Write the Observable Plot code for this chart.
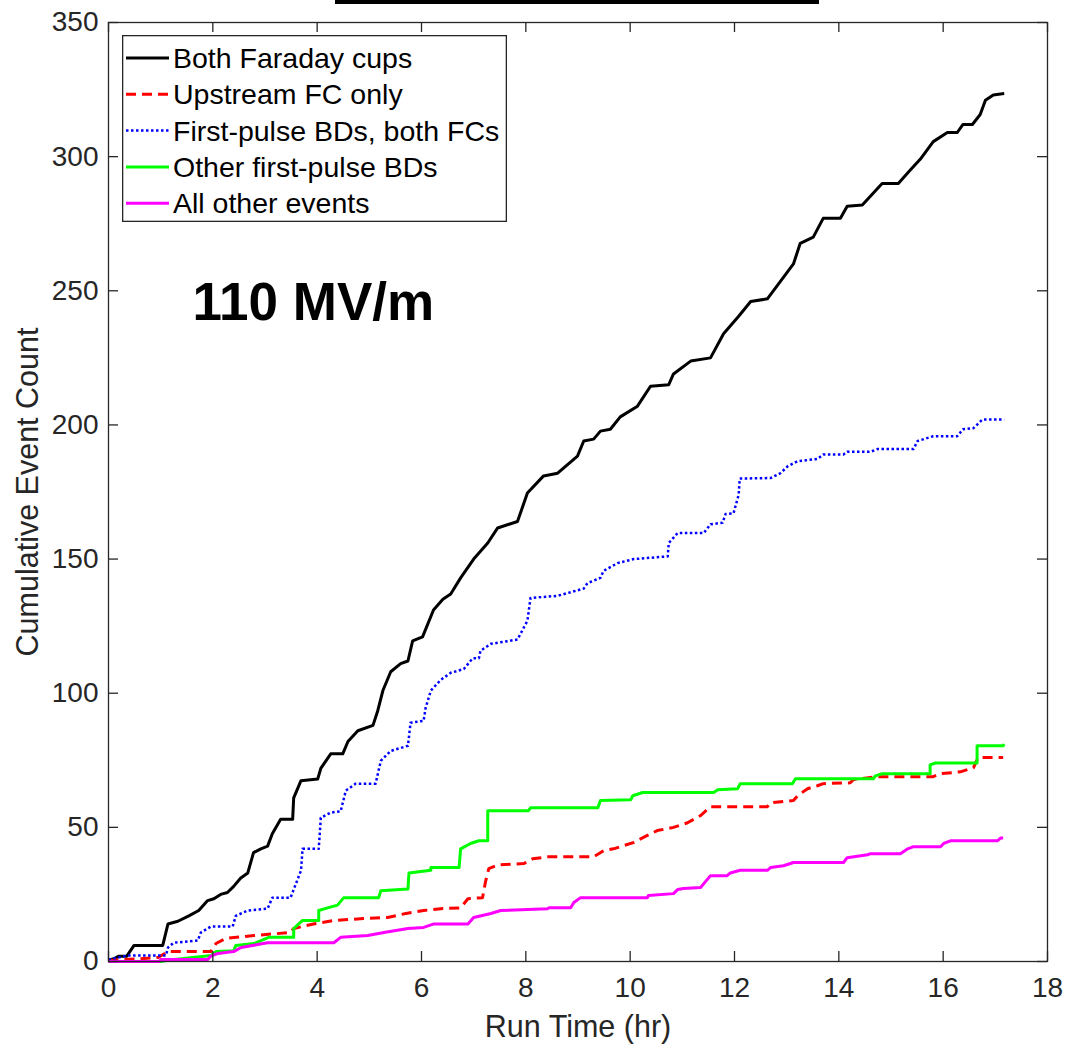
<!DOCTYPE html>
<html>
<head>
<meta charset="utf-8">
<script src="https://cdn.jsdelivr.net/npm/d3@7"></script>
<script src="https://cdn.jsdelivr.net/npm/@observablehq/plot@0.6"></script>
<style>
  body { margin: 0; background: #fff; }
  #wrap { position: relative; width: 1069px; height: 1045px; font-family: "Liberation Sans", Arial, sans-serif; }
  #topbar { position: absolute; left: 335px; top: 0; width: 484px; height: 4px; background: #000; }
  #legend { position: absolute; left: 122px; top: 35px; }
</style>
</head>
<body>
<div id="wrap"><div id="chart"></div><div id="topbar"></div><div id="legend"></div></div>
<script>
// ---- data ----
const xTicks = [0, 2, 4, 6, 8, 10, 12, 14, 16, 18];
const yTicks = [0, 50, 100, 150, 200, 250, 300, 350];

const bothX = [0,0.1,0.2,0.35,0.49,1.04,1.14,1.33,1.54,1.73,1.90,2.02,2.15,2.28,2.40,2.53,2.67,2.78,2.92,3.05,3.14,3.30,3.53,3.55,3.69,4.01,4.07,4.26,4.49,4.59,4.78,5.07,5.16,5.26,5.41,5.60,5.74,5.83,6.02,6.23,6.41,6.56,6.75,7.00,7.27,7.46,7.84,8.03,8.34,8.61,8.99,9.11,9.30,9.43,9.62,9.81,10.14,10.39,10.74,10.83,11.16,11.54,11.79,12.08,12.31,12.63,12.88,13.13,13.26,13.51,13.70,14.03,14.16,14.45,14.64,14.83,15.14,15.37,15.56,15.81,16.08,16.27,16.38,16.56,16.71,16.81,16.96,17.17];
const bothY = [0.5,1,2,2,6,6,14,15,17,19,22.7,23.4,25,25.7,28,31,33,40.6,42,43,47.6,53,53,61,67.4,68,72,77.4,77.4,82,86,88,93.4,101,108,111,112,119.5,121,131,135,137,143,150,156,161.6,164,174.6,181,182,188.4,194,194.7,197.7,198.4,203,207,214.4,215,219,223.8,225,234,240.5,246,247,253.5,260,267.7,270,277,277,281.5,282,286,290,290,295,299,305.6,309,309,312,312,315.7,321,323,323.5];

const upX = [0,0.24,0.62,0.95,1.14,1.96,2.06,2.25,2.79,3.49,3.55,3.93,4.32,4.89,5.35,5.70,6.04,6.37,6.75,6.89,7.17,7.23,7.29,7.46,7.96,8.13,8.42,9.30,9.49,9.68,10.06,10.33,10.52,10.83,11.10,11.35,11.54,12.63,12.69,13.13,13.21,13.40,13.59,13.70,14.22,14.28,14.74,15.81,15.95,16.33,16.58,16.67,17.15];
const upY = [0.4,0.7,1,1.5,3.7,3.7,6.7,8.6,9.7,10.8,12.3,14,15.3,16,16.4,17.9,19,19.7,20,23.4,23.8,30,34.6,36,36.5,38.3,39,39,41.3,42,44.3,47,48.8,50,51.7,54.4,57.7,57.7,59.2,60,61.8,64.4,65.5,66.3,66.6,67.8,68.9,68.9,70,70.7,72.2,76,76];

const firstX = [0,0.37,1.10,1.14,1.25,1.71,1.77,1.96,2.38,2.44,2.67,3.05,3.14,3.49,3.69,3.72,4.03,4.07,4.26,4.45,4.55,4.74,5.12,5.22,5.41,5.74,5.79,6.04,6.08,6.18,6.37,6.56,6.81,6.98,7.10,7.13,7.33,7.84,8.03,8.09,8.61,9.11,9.18,9.43,9.49,9.76,10.07,10.72,10.74,10.91,11.41,11.54,11.77,11.83,11.98,12.08,12.10,12.69,12.88,13.02,13.21,13.59,13.70,14.09,14.16,14.61,14.74,15.43,15.51,15.81,16.27,16.38,16.58,16.75,17.17];
const firstY = [0.7,2.2,2.2,5.2,7,7.8,10.8,13,13,17,19,19.7,23.8,23.8,33.9,42,42,53.6,55.5,56,63.7,66.3,66.3,74.8,78.5,80.4,89,89.7,94.6,101,105,107.6,109,113,113,115.8,118.4,120,127,135.5,136.3,139,141,143,145.6,148.5,150,151,156,159.7,159.7,163,163.5,166.8,167,174,180,180.2,182,184.6,186.5,187.3,189,189,190,190,191,191,194,195.8,195.8,198.4,198.8,202,202];

const otherFirstX = [0,1.0,1.14,1.96,2.06,2.40,2.44,2.79,3.07,3.55,3.55,3.72,4.03,4.03,4.20,4.39,4.51,5.18,5.22,5.74,5.76,6.18,6.18,6.72,6.75,6.94,7.10,7.27,7.27,8.05,8.09,9.38,9.43,10.01,10.05,10.24,11.60,11.68,12.06,12.11,13.11,13.17,14.66,14.70,14.83,15.75,15.75,15.85,16.65,16.65,17.15,17.17];
const otherFirstY = [0,0,0.5,2.2,3.7,4,6,6.7,9,9,12.3,15.3,15.3,19,20,21,23.8,23.8,26.4,27,33,34,35,35,42,44,45,45,56.2,56.2,57.3,57.3,60,60.3,61.8,63,63,64,64.4,66.3,66.3,68.1,68.1,69.2,70,70,73.3,74,74,80.4,80.4,81];

const allOtherX = [0,0.97,1.0,1.90,1.96,2.10,2.40,2.54,2.86,3.05,4.32,4.45,4.97,5.28,5.74,6.04,6.24,6.89,7.00,7.33,7.52,8.42,8.44,8.86,8.92,9.05,10.33,10.35,10.83,10.91,11.02,11.35,11.54,11.86,11.92,12.11,12.63,12.69,12.94,13.13,14.09,14.16,14.55,14.61,15.18,15.32,15.43,15.95,16.01,16.14,17.04,17.10,17.15];
const allOtherY = [0,0,0.7,0.7,2,3,3.7,5.2,6.3,7,7,9,9.7,10.8,12.3,12.7,14,14,16.4,17.9,19,19.7,20,20,22,23.8,23.8,24.6,25.3,26.8,27.2,27.6,32,32,33,34,34,35,35.7,36.9,36.9,38.7,39.8,40.2,40.2,42,42.8,42.8,44,45,45,46,46];

const seriesNames = ["Both Faraday cups", "Upstream FC only", "First-pulse BDs, both FCs", "Other first-pulse BDs", "All other events"];
const annotation = "110 MV/m";
const xLabel = "Run Time (hr)";
const yLabel = "Cumulative Event Count";

// ---- styles ----
const styles = [
  {stroke: "#000000", strokeWidth: 3, dash: null},
  {stroke: "#ff0000", strokeWidth: 3, dash: "10,6"},
  {stroke: "#0000ff", strokeWidth: 2.5, dash: "2.5,2.5"},
  {stroke: "#00ff00", strokeWidth: 3, dash: null},
  {stroke: "#ff00ff", strokeWidth: 3, dash: null}
];
const seriesXY = [[bothX, bothY], [upX, upY], [firstX, firstY], [otherFirstX, otherFirstY], [allOtherX, allOtherY]];
const tables = seriesXY.map(([xs, ys]) => xs.map((x, i) => ({x, y: ys[i]})));

const W = 1069, H = 1045, mL = 108, mR = 22, mT = 22, mB = 84;
const axisColor = "#262626";
const tickPx = 10;
const tickLenY = tickPx * 350 / (H - mT - mB);
const tickLenX = tickPx * 18 / (W - mL - mR);
const font = "Liberation Sans, Arial, sans-serif";

const lineMarks = tables.map((t, i) => Plot.line(t, {
  x: "x", y: "y",
  stroke: styles[i].stroke,
  strokeWidth: styles[i].strokeWidth,
  strokeDasharray: styles[i].dash,
  strokeLinejoin: "round",
  strokeLinecap: "butt"
}));

const chart = Plot.plot({
  width: W, height: H,
  marginLeft: mL, marginRight: mR, marginTop: mT, marginBottom: mB,
  style: {fontFamily: font, background: "#fff", color: axisColor},
  x: {domain: [0, 18], ticks: xTicks},
  y: {domain: [0, 350], ticks: yTicks},
  marks: [
    Plot.axisX(xTicks, {tickSize: 0, tickPadding: 16, fontSize: 28, label: null, fill: axisColor}),
    Plot.axisY(yTicks, {tickSize: 0, tickPadding: 10, fontSize: 28, label: null, fill: axisColor}),
    ...lineMarks,
    Plot.ruleX(xTicks, {x: d => d, y1: 0, y2: tickLenY, stroke: axisColor, strokeWidth: 1.3}),
    Plot.ruleX(xTicks, {x: d => d, y1: 350, y2: 350 - tickLenY, stroke: axisColor, strokeWidth: 1.3}),
    Plot.ruleY(yTicks, {y: d => d, x1: 0, x2: tickLenX, stroke: axisColor, strokeWidth: 1.3}),
    Plot.ruleY(yTicks, {y: d => d, x1: 18, x2: 18 - tickLenX, stroke: axisColor, strokeWidth: 1.3}),
    Plot.frame({stroke: axisColor, strokeWidth: 1.3}),
    Plot.text([annotation], {frameAnchor: "top-left", text: d => d, dx: 84, dy: 260, textAnchor: "start", lineAnchor: "top", fontSize: 53, fontWeight: "bold", fill: "#000"}),
    Plot.text([xLabel], {frameAnchor: "bottom", text: d => d, dy: 54, textAnchor: "middle", lineAnchor: "top", fontSize: 30.5, fill: axisColor}),
    Plot.text([yLabel], {frameAnchor: "left", text: d => d, dx: -80, rotate: -90, textAnchor: "middle", lineAnchor: "middle", fontSize: 30.5, fill: axisColor})
  ]
});
document.getElementById("chart").appendChild(chart);

// ---- legend ----
const lw = 385, lh = 187, rowY0 = 23, rowStep = 36.3;
const ns = "http://www.w3.org/2000/svg";
const lg = document.createElementNS(ns, "svg");
lg.setAttribute("width", lw); lg.setAttribute("height", lh);
lg.style.fontFamily = font;
const bg = document.createElementNS(ns, "rect");
bg.setAttribute("x", 0.65); bg.setAttribute("y", 0.65);
bg.setAttribute("width", lw - 1.3); bg.setAttribute("height", lh - 1.3);
bg.setAttribute("fill", "#fff"); bg.setAttribute("stroke", axisColor); bg.setAttribute("stroke-width", 1.3);
lg.appendChild(bg);
seriesNames.forEach((name, i) => {
  const y = rowY0 + i * rowStep;
  const ln = document.createElementNS(ns, "line");
  ln.setAttribute("x1", 4); ln.setAttribute("x2", 47);
  ln.setAttribute("y1", y); ln.setAttribute("y2", y);
  ln.setAttribute("stroke", styles[i].stroke);
  ln.setAttribute("stroke-width", styles[i].strokeWidth);
  if (styles[i].dash) ln.setAttribute("stroke-dasharray", styles[i].dash);
  lg.appendChild(ln);
  const tx = document.createElementNS(ns, "text");
  tx.setAttribute("x", 51); tx.setAttribute("y", y);
  tx.setAttribute("dy", "0.35em");
  tx.setAttribute("font-size", 28.5);
  tx.setAttribute("fill", "#000");
  tx.textContent = name;
  lg.appendChild(tx);
});
document.getElementById("legend").appendChild(lg);
</script>
</body>
</html>
